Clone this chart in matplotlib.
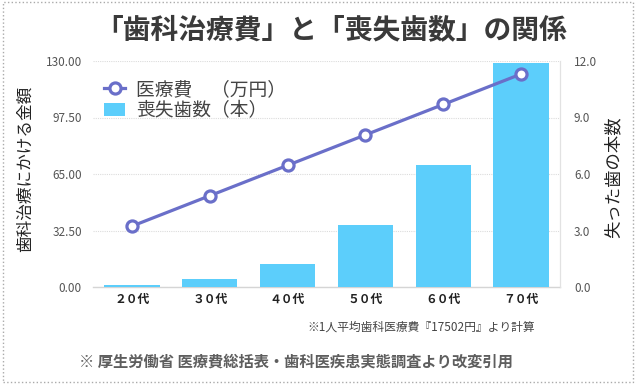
import matplotlib
matplotlib.use('Agg')
import matplotlib.pyplot as plt
from matplotlib.patches import Rectangle
from matplotlib.ticker import FormatStrFormatter, MultipleLocator

plt.rcParams['font.family'] = ['Noto Sans CJK JP', 'DejaVu Sans']

# data
ages = ['２０代', '３０代', '４０代', '５０代', '６０代', '７０代']
cost = [35.0, 52.5, 70.0, 87.5, 105.0, 122.5]      # 医療費（万円）
lost_teeth = [0.1, 0.4, 1.2, 3.3, 6.5, 11.9]       # 喪失歯数（本）

line_color = '#6a6fc9'
bar_color = '#5ccefb'

fig = plt.figure(figsize=(6.4, 3.88), dpi=100)
ax = fig.add_axes([93 / 640, 1 - 287 / 388, 467 / 640, 226 / 388])
ax2 = ax.twinx()

x = range(len(ages))

# bars on the right axis, drawn underneath the line
bars = ax2.bar(x, lost_teeth, width=0.71, color=bar_color, zorder=3)
ax2.set_ylim(0, 12)
ax2.yaxis.set_major_locator(MultipleLocator(3))
ax2.yaxis.set_major_formatter(FormatStrFormatter('%.1f'))
ax2.grid(axis='y', color='#dcdcdc', linestyle=(0, (1, 1)), linewidth=0.8, zorder=0)
ax2.set_axisbelow(True)

# line on the left axis, on top
line, = ax.plot(x, cost, color=line_color, linewidth=2.3, marker='o',
                markersize=8, markerfacecolor='white', markeredgewidth=2.3,
                zorder=5)
ax.set_ylim(0, 130)
ax.set_xlim(-0.5, len(ages) - 0.5)
ax.yaxis.set_major_locator(MultipleLocator(32.5))
ax.yaxis.set_major_formatter(FormatStrFormatter('%.2f'))
ax.set_zorder(ax2.get_zorder() + 1)
ax.patch.set_visible(False)

ax.set_xticks(list(x))
ax.set_xticklabels(ages, fontsize=8.5, fontweight='bold', color='#222')
ax.tick_params(axis='x', length=0, pad=4)
ax.tick_params(axis='y', length=0, pad=8, labelsize=8.5, labelcolor='#555')
ax2.tick_params(axis='y', length=0, pad=10, labelsize=8.5, labelcolor='#555')

for a in (ax, ax2):
    for s in ('top', 'left'):
        a.spines[s].set_visible(False)
    a.spines['right'].set_color('#e2e2e2')
    a.spines['bottom'].set_color('#d5d5d5')
    a.spines['bottom'].set_linewidth(1.0)
    a.spines['bottom'].set_zorder(1)
ax.spines['bottom'].set_visible(False)

ax.legend([line, bars], ['医療費　（万円）', '喪失歯数（本）'],
          loc='upper left', bbox_to_anchor=(0.0, 0.97), frameon=False,
          fontsize=13.5, handlelength=1.1, handletextpad=0.6,
          labelspacing=0.0, borderaxespad=0.2, labelcolor='#444')

fig.text(25 / 640, 1 - 169 / 388, '歯科治療にかける金額', rotation=90,
         ha='center', va='center', fontsize=12, color='#222')
fig.text(614 / 640, 1 - 177 / 388, '失った歯の本数', rotation=90,
         ha='center', va='center', fontsize=12.5, color='#222')

fig.text(331 / 640, 1 - 30 / 388, '「歯科治療費」と「喪失歯数」の関係',
         ha='center', va='center', fontsize=20, fontweight='bold', color='#3a3a3a')
fig.text(535 / 640, 1 - 327 / 388, '※1人平均歯科医療費『17502円』より計算',
         ha='right', va='center', fontsize=8.5, color='#444')
fig.text(296 / 640, 1 - 362 / 388, '※ 厚生労働省 医療費総括表・歯科医疾患実態調査より改変引用',
         ha='center', va='center', fontsize=11, fontweight='bold', color='#5e5e5e')

fig.patches.append(Rectangle((3 / 640, 6 / 388), 630 / 640, 380 / 388,
                             transform=fig.transFigure, fill=False,
                             edgecolor='#aaaaaa', linestyle=':', linewidth=1))

fig.savefig('out.png', dpi=100)
